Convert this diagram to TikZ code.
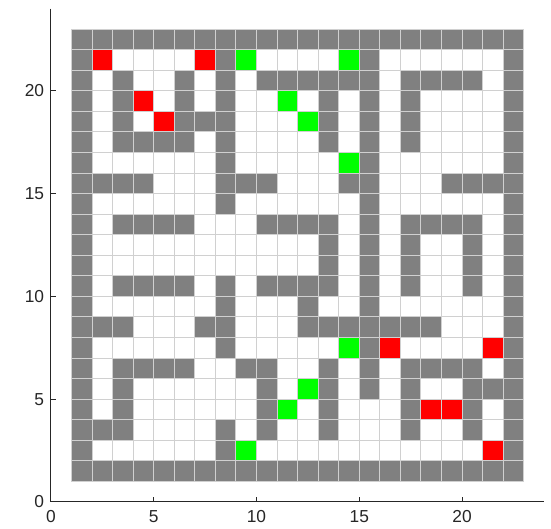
\documentclass[tikz,border=0pt]{standalone}
\usepackage{fontspec}
\setmainfont{Liberation Sans}
\definecolor{cell0}{RGB}{255,255,255}
\definecolor{cell1}{RGB}{128,128,128}
\definecolor{cell2}{RGB}{255,0,0}
\definecolor{cell3}{RGB}{0,255,0}
\definecolor{gridline}{RGB}{208,208,208}
\definecolor{axiscol}{RGB}{38,38,38}

\begin{document}
\begin{tikzpicture}[x=0.5cm, y=0.5cm,
    cell/.style={draw=gridline, line width=0.7pt},
    axis/.style={draw=axiscol, line width=0.7pt},
    ticklabel/.style={inner sep=0pt, font=\fontsize{12}{14}\selectfont, text=axiscol}]
  \useasboundingbox (-2.48,-1.31) rectangle (24.33,24.42);

  \foreach \cells [count=\r from 0] in {
      {1,1,1,1,1,1,1,1,1,1,1,1,1,1,1,1,1,1,1,1,1,1},
      {1,2,0,0,0,0,2,1,3,0,0,0,0,3,1,0,0,0,0,0,0,1},
      {1,0,1,0,0,1,0,1,0,1,1,1,1,1,1,0,1,1,1,1,0,1},
      {1,0,1,2,0,1,0,1,0,0,3,0,1,0,1,0,1,0,0,0,0,1},
      {1,0,1,0,2,1,1,1,0,0,0,3,1,0,1,0,1,0,0,0,0,1},
      {1,0,1,1,1,1,0,1,0,0,0,0,1,0,1,0,1,0,0,0,0,1},
      {1,0,0,0,0,0,0,1,0,0,0,0,0,3,1,0,0,0,0,0,0,1},
      {1,1,1,1,0,0,0,1,1,1,0,0,0,1,1,0,0,0,1,1,1,1},
      {1,0,0,0,0,0,0,1,0,0,0,0,0,0,1,0,0,0,0,0,0,1},
      {1,0,1,1,1,1,0,0,0,1,1,1,1,0,1,0,1,1,1,1,0,1},
      {1,0,0,0,0,0,0,0,0,0,0,0,1,0,1,0,1,0,0,1,0,1},
      {1,0,0,0,0,0,0,0,0,0,0,0,1,0,1,0,1,0,0,1,0,1},
      {1,0,1,1,1,1,0,1,0,1,1,1,1,0,1,0,1,0,0,1,0,1},
      {1,0,0,0,0,0,0,1,0,0,0,1,0,0,1,0,0,0,0,0,0,1},
      {1,1,1,0,0,0,1,1,0,0,0,1,1,1,1,1,1,1,0,0,0,1},
      {1,0,0,0,0,0,0,1,0,0,0,0,0,3,1,2,0,0,0,0,2,1},
      {1,0,1,1,1,1,0,0,1,1,0,0,1,0,1,0,1,1,1,1,0,1},
      {1,0,1,0,0,0,0,0,0,1,0,3,1,0,1,0,1,0,0,1,1,1},
      {1,0,1,0,0,0,0,0,0,1,3,0,1,0,0,0,1,2,2,1,0,1},
      {1,1,1,0,0,0,0,1,0,1,0,0,1,0,0,0,1,0,0,1,0,1},
      {1,0,0,0,0,0,0,1,3,0,0,0,0,0,0,0,0,0,0,0,2,1},
      {1,1,1,1,1,1,1,1,1,1,1,1,1,1,1,1,1,1,1,1,1,1}} {
    \foreach \c [count=\k from 1] in \cells
      \path[cell, fill=cell\c] (\k,22-\r) rectangle ++(1,1);
  }

  \coordinate (o) at (0,0);
  \coordinate (xend) at (24,0);
  \coordinate (yend) at (0,24);
  \draw[axis] (yend) -- (o) -- (xend);
  \foreach \t in {5,10,15,20} {
    \draw[axis] (\t,0) -- ++(0,0.25);
    \draw[axis] (0,\t) -- ++(0.25,0);
    \node[ticklabel] (xl\t) at (\t,-0.73) {\t};
    \node[ticklabel, anchor=east] (yl\t) at (-0.32,\t) {\t};
  }
  \node[ticklabel] (xl0) at (0,-0.73) {0};
  \node[ticklabel, anchor=east] (yl0) at (-0.32,0) {0};
\end{tikzpicture}
\end{document}
